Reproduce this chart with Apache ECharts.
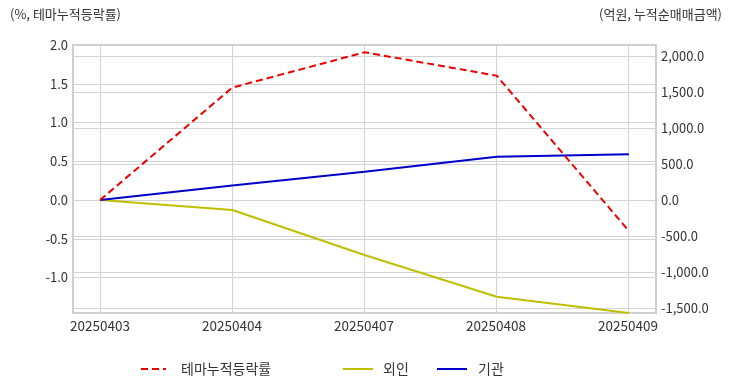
<!DOCTYPE html>
<html>
<head>
<meta charset="utf-8">
<script src="https://cdn.jsdelivr.net/npm/echarts@6/dist/echarts.min.js"></script>
<style>html,body{margin:0;padding:0;background:#fff}#c{width:732px;height:392px}</style>
</head>
<body>
<div id="c"></div>
<script>
const categories = ['20250403', '20250404', '20250407', '20250408', '20250409'];
const themeReturn = [0.0, 1.45, 1.906, 1.604, -0.40];
const foreignNet = [0, -139, -764, -1343, -1569];
const instNet = [0, 201, 393, 602, 634];
const seriesNames = ['테마누적등락률', '외인', '기관'];
const leftAxisTitle = '(%, 테마누적등락률)';
const rightAxisTitle = '(억원, 누적순매매금액)';

const FONT = '"Noto Sans CJK KR", "Noto Sans", sans-serif';
const chart = echarts.init(document.getElementById('c'), null, {renderer: 'canvas'});

function pair(arr) { return arr.map((v, i) => [i, v]); }
function fmtComma(v) {
  return Number(v).toLocaleString('en-US', {minimumFractionDigits: 1, maximumFractionDigits: 1});
}
const legendCommon = {top: 362, padding: 0, itemHeight: 12, itemStyle: {opacity: 0, borderWidth: 0}};

const option = {
  animation: false,
  textStyle: {fontFamily: FONT},
  grid: [
    {left: 73, right: 76, top: 45, bottom: 79, show: true, borderColor: '#cfcfcf', borderWidth: 2, backgroundColor: 'transparent', containLabel: false},
    {left: 100, right: 104, top: 45, bottom: 79, containLabel: false}
  ],
  xAxis: [
    {gridIndex: 0, type: 'value', min: -0.205, max: 4.205, show: false},
    {gridIndex: 1, type: 'category', data: categories, boundaryGap: false,
     axisLine: {show: false}, axisTick: {show: false},
     splitLine: {show: true, lineStyle: {color: '#d3d3d3', width: 1}},
     axisLabel: {color: '#333', fontSize: 13.5, margin: 6, fontFamily: FONT}}
  ],
  yAxis: [
    {gridIndex: 0, type: 'value', position: 'left', min: -1.458, max: 2.0, splitNumber: 7,
     axisLine: {show: false}, axisTick: {show: false},
     splitLine: {show: true, lineStyle: {color: '#d3d3d3', width: 1}},
     axisLabel: {color: '#333', fontSize: 13, margin: 5, fontFamily: FONT, showMinLabel: false,
       formatter: v => (Math.abs(v * 2 - Math.round(v * 2)) < 1e-6 ? v.toFixed(1) : '')}},
    {gridIndex: 0, type: 'value', position: 'right', min: -1569, max: 2153, splitNumber: 7,
     axisLine: {show: false}, axisTick: {show: false},
     splitLine: {show: true, lineStyle: {color: '#d3d3d3', width: 1}},
     axisLabel: {color: '#333', fontSize: 13, margin: 5, fontFamily: FONT, showMinLabel: false, showMaxLabel: false,
       formatter: v => (Math.abs(v % 500) < 1e-6 ? fmtComma(v) : '')}},
    {gridIndex: 1, type: 'value', show: false}
  ],
  legend: [
    Object.assign({data: [seriesNames[0]], left: 140, itemWidth: 25,
     textStyle: {color: '#333', fontSize: 14, fontFamily: FONT, padding: [0, 0, 0, 10]}}, legendCommon),
    Object.assign({data: [seriesNames[1]], left: 342, itemWidth: 30,
     textStyle: {color: '#333', fontSize: 14, fontFamily: FONT, padding: [0, 0, 0, 5]}}, legendCommon),
    Object.assign({data: [seriesNames[2]], left: 436, itemWidth: 30,
     textStyle: {color: '#333', fontSize: 14, fontFamily: FONT, padding: [0, 0, 0, 6]}}, legendCommon)
  ],
  graphic: [
    {type: 'text', left: 10, top: 8, style: {text: leftAxisTitle, fill: '#333', font: '13px ' + FONT}},
    {type: 'text', right: 10, top: 8, style: {text: rightAxisTitle, fill: '#333', font: '13px ' + FONT}}
  ],
  series: [
    {name: seriesNames[0], type: 'line', xAxisIndex: 0, yAxisIndex: 0, data: pair(themeReturn),
     symbol: 'none', color: '#ee0000', lineStyle: {color: '#ee0000', width: 2, type: [7, 4]}, z: 5},
    {name: seriesNames[1], type: 'line', xAxisIndex: 0, yAxisIndex: 1, data: pair(foreignNet),
     symbol: 'none', color: '#bfbf00', lineStyle: {color: '#bfbf00', width: 2}, z: 4},
    {name: seriesNames[2], type: 'line', xAxisIndex: 0, yAxisIndex: 1, data: pair(instNet),
     symbol: 'none', color: '#0000cc', lineStyle: {color: '#0000cc', width: 2}, z: 4}
  ]
};
chart.setOption(option);
</script>
</body>
</html>
